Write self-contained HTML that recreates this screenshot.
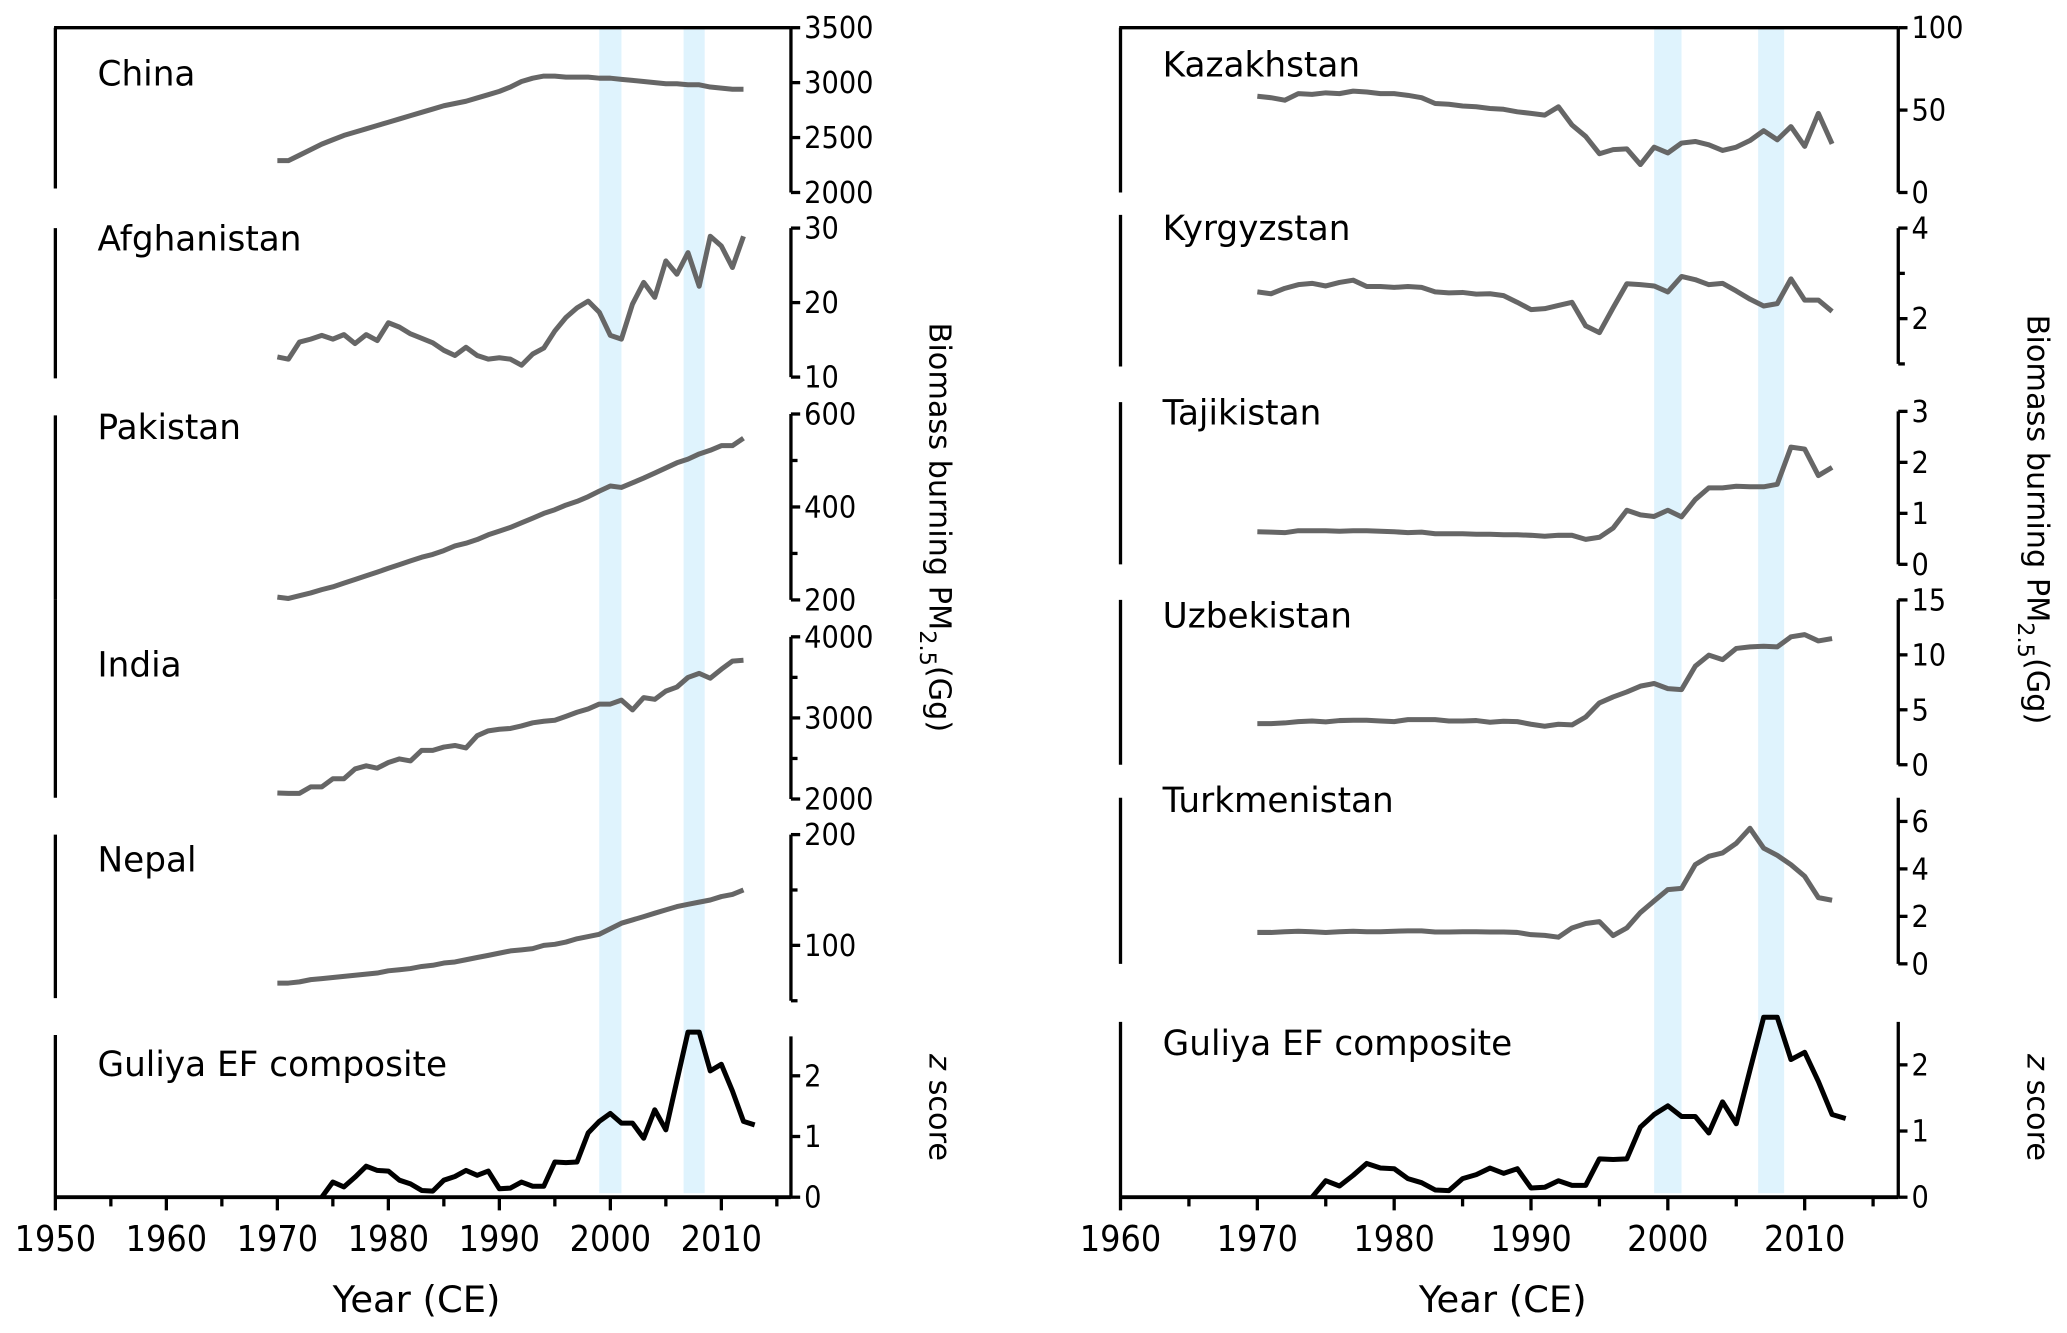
<!DOCTYPE html>
<html><head><meta charset="utf-8"><style>
html,body{margin:0;padding:0;background:#fff;}
svg{display:block;}
text{font-family:"DejaVu Sans","Liberation Sans",sans-serif;fill:#000;}
.tk{font-family:"DejaVu Sans Condensed","DejaVu Sans",sans-serif;font-size:23px;}
.xt{font-family:"DejaVu Sans Condensed","DejaVu Sans",sans-serif;font-size:27px;}
.nm{font-size:26px;}
.xl{font-size:28px;}
.al{font-size:23px;}
</style></head><body>
<svg id="chart" width="2067" height="1333" viewBox="0 0 1568 1011" preserveAspectRatio="none" xmlns="http://www.w3.org/2000/svg"></svg>
<script>
const years = [];
for (let y = 1970; y <= 2012; y++) years.push(y);
const guliyaYears = [];
for (let y = 1974; y <= 2013; y++) guliyaYears.push(y);

const china = [2290,2290,2340,2390,2440,2480,2520,2550,2580,2610,2640,2670,2700,2730,2760,2790,2810,2830,2860,2890,2920,2960,3010,3040,3060,3060,3050,3050,3050,3040,3040,3030,3020,3010,3000,2990,2990,2980,2980,2960,2950,2940,2940];
const afghanistan = [12.7,12.4,14.7,15.1,15.6,15.1,15.7,14.5,15.7,14.9,17.3,16.7,15.8,15.2,14.6,13.6,12.9,14.0,12.9,12.4,12.6,12.4,11.6,13.1,13.9,16.2,18.0,19.3,20.2,18.7,15.6,15.1,19.8,22.7,20.7,25.6,23.8,26.7,22.2,28.9,27.6,24.7,28.9];
const pakistan = [206,203,209,215,222,228,236,244,252,260,268,276,284,292,298,306,316,322,330,340,348,356,366,376,386,394,404,412,422,434,445,442,452,462,473,484,495,503,514,522,532,532,548];
const india = [2074,2070,2070,2150,2150,2250,2250,2370,2410,2380,2450,2495,2470,2600,2600,2640,2660,2630,2780,2840,2860,2870,2900,2940,2960,2970,3020,3070,3110,3170,3170,3220,3100,3250,3230,3330,3380,3500,3550,3490,3600,3700,3710];
const nepal = [66,66,67,69,70,71,72,73,74,75,77,78,79,81,82,84,85,87,89,91,93,95,96,97,100,101,103,106,108,110,115,120,123,126,129,132,135,137,139,141,144,146,150];
const guliya = [0,0.25,0.17,0.33,0.51,0.44,0.43,0.28,0.22,0.11,0.10,0.28,0.34,0.44,0.36,0.43,0.14,0.15,0.25,0.18,0.18,0.58,0.57,0.58,1.06,1.25,1.38,1.22,1.22,0.97,1.44,1.11,1.92,2.72,2.72,2.08,2.19,1.75,1.25,1.19];
const kazakhstan = [58.4,57.5,56,60,59.5,60.5,60,61.5,61,60,60,59,57.5,54,53.5,52.5,52,51,50.5,49,48,47,52,41,34,23.5,26,26.5,17,27.5,24,30,31,29,25.5,27.5,31.5,37.5,32,40,28,48,29.5];
const kyrgyzstan = [2.59,2.55,2.67,2.75,2.78,2.72,2.8,2.85,2.71,2.71,2.69,2.71,2.69,2.59,2.57,2.58,2.54,2.55,2.51,2.36,2.2,2.22,2.29,2.36,1.84,1.69,2.24,2.77,2.75,2.72,2.59,2.93,2.86,2.75,2.78,2.61,2.43,2.28,2.33,2.88,2.41,2.41,2.16];
const tajikistan = [0.64,0.63,0.62,0.66,0.66,0.66,0.65,0.66,0.66,0.65,0.64,0.62,0.63,0.6,0.6,0.6,0.59,0.59,0.58,0.58,0.57,0.55,0.57,0.57,0.49,0.53,0.71,1.06,0.97,0.94,1.06,0.93,1.27,1.5,1.5,1.53,1.52,1.52,1.57,2.3,2.26,1.74,1.9];
const uzbekistan = [3.75,3.75,3.81,3.93,3.99,3.9,4.02,4.05,4.05,3.99,3.93,4.11,4.11,4.11,3.99,3.99,4.02,3.87,3.96,3.93,3.68,3.5,3.68,3.62,4.35,5.63,6.17,6.63,7.15,7.39,6.93,6.84,8.97,9.97,9.57,10.58,10.73,10.79,10.73,11.64,11.85,11.27,11.49];
const turkmenistan = [1.32,1.32,1.35,1.37,1.35,1.32,1.35,1.37,1.35,1.35,1.37,1.39,1.39,1.34,1.34,1.35,1.35,1.34,1.34,1.32,1.23,1.2,1.12,1.51,1.7,1.78,1.19,1.51,2.16,2.65,3.13,3.18,4.18,4.53,4.67,5.08,5.71,4.87,4.57,4.18,3.69,2.79,2.68];

const bandStarts = [1999, 2006.6];
const bandEnds = [2001, 2008.5];
const leftXTicks = [1950,1960,1970,1980,1990,2000,2010];
const rightXTicks = [1960,1970,1980,1990,2000,2010];

const NS = "http://www.w3.org/2000/svg";
const svg = document.getElementById("chart");
function mk(tag, attrs, parent) {
  const e = document.createElementNS(NS, tag);
  for (const k in attrs) e.setAttribute(k, attrs[k]);
  (parent || svg).appendChild(e);
  return e;
}

const sides = [
  {key:"left", x0:42, x1:600, yr0:1950, pxPerYr:8.42, xticks:leftXTicks, labelX:74, axisLabelX:705, bioY:400, zY:840},
  {key:"right", x0:850, x1:1440, yr0:1960, pxPerYr:10.38, xticks:rightXTicks, labelX:882, axisLabelX:1538, bioY:394, zY:840}
];
const panels = {
  left: [
    {name:"China", data:china, yrs:years, vmin:2000, vmax:3500, top:21, bot:146, lt:21, lb:143, ticks:[2000,2500,3000,3500], minor:[], frame:true, ty:65},
    {name:"Afghanistan", data:afghanistan, yrs:years, vmin:10, vmax:30, top:173, bot:286, lt:173, lb:287, ticks:[10,20,30], minor:[], ty:190},
    {name:"Pakistan", data:pakistan, yrs:years, vmin:200, vmax:600, top:314, bot:455, lt:315, lb:455, ticks:[200,400,600], minor:[300,500], ty:333},
    {name:"India", data:india, yrs:years, vmin:2000, vmax:4000, top:483, bot:606, lt:455, lb:605, ticks:[2000,3000,4000], minor:[2500,3500], ty:513},
    {name:"Nepal", data:nepal, yrs:years, vmin:50, vmax:200, top:633, bot:759, lt:633, lb:757, ticks:[100,200], minor:[50,150], ty:661},
    {name:"Guliya EF composite", data:guliya, yrs:guliyaYears, vmin:0, vmax:2.65, top:786, bot:908, lt:785, lb:908, ticks:[0,1,2], minor:[], z:true, ty:816}
  ],
  right: [
    {name:"Kazakhstan", data:kazakhstan, yrs:years, vmin:0, vmax:100, top:21, bot:146, lt:21, lb:146, ticks:[0,50,100], minor:[], frame:true, ty:58},
    {name:"Kyrgyzstan", data:kyrgyzstan, yrs:years, vmin:1, vmax:4, top:173, bot:276, lt:163, lb:278, ticks:[2,4], minor:[1,3], ty:182},
    {name:"Tajikistan", data:tajikistan, yrs:years, vmin:0, vmax:3, top:312, bot:428, lt:305, lb:428, ticks:[0,1,2,3], minor:[], ty:322},
    {name:"Uzbekistan", data:uzbekistan, yrs:years, vmin:0, vmax:15, top:455, bot:580, lt:455, lb:580, ticks:[0,5,10,15], minor:[], ty:476},
    {name:"Turkmenistan", data:turkmenistan, yrs:years, vmin:0, vmax:7, top:605, bot:731, lt:605, lb:731, ticks:[0,2,4,6], minor:[], ty:616},
    {name:"Guliya EF composite", data:guliya, yrs:guliyaYears, vmin:0, vmax:2.65, top:775, bot:908, lt:775, lb:908, ticks:[0,1,2], minor:[], z:true, ty:800}
  ]
};

sides.forEach(s => {
  const X = yr => s.x0 + (yr - s.yr0) * s.pxPerYr;
  const g = mk("g", {});
  
  
  bandStarts.forEach((b, i) => {
    const r = mk("rect", {x:X(b), y:21, width:X(bandEnds[i]) - X(b), height:884, fill:"#dff3fd"}, g);
    
    
  });
  panels[s.key].forEach(p => {
    const pg = mk("g", {}, g);
    
    
    const Y = v => p.bot - (v - p.vmin) / (p.vmax - p.vmin) * (p.bot - p.top);
    const ls = mk("line", {x1:s.x0, x2:s.x0, y1:p.lt, y2:p.lb, stroke:"#000", "stroke-width":2.5}, pg);
    
    
    if (p.frame) {
      const tl = mk("line", {x1:s.x0 - 1, x2:s.x1, y1:p.lt, y2:p.lt, stroke:"#000", "stroke-width":2.5}, pg);
      
      
    }
    const ra = mk("line", {x1:s.x1, x2:s.x1, y1:p.frame ? p.lt : p.top, y2:p.z ? p.lb : p.bot, stroke:"#000", "stroke-width":2.5}, pg);
    
    
    p.ticks.forEach(t => {
      const tk = mk("line", {x1:s.x1, x2:s.x1 + 7, y1:Y(t), y2:Y(t), stroke:"#000", "stroke-width":2.5}, pg);
      
      
      const tx = mk("text", {x:s.x1 + 10, y:Y(t) + 8, class:"tk"}, pg);
      tx.textContent = String(t);
      
      
    });
    p.minor.forEach(t => {
      const tk = mk("line", {x1:s.x1, x2:s.x1 + 5, y1:Y(t), y2:Y(t), stroke:"#000", "stroke-width":2.5}, pg);
      
      
    });
    const pts = p.data.map((v, i) => X(p.yrs[i]).toFixed(1) + "," + Y(v).toFixed(1)).join(" ");
    const pl = mk("polyline", {points:pts, fill:"none", stroke:p.z ? "#000" : "#666", "stroke-width":3.8, "stroke-linejoin":"round"}, pg);
    
    
    const nm = mk("text", {x:s.labelX, y:p.ty, class:"nm"}, pg);
    nm.textContent = p.name;
    
    
  });
  const xa = mk("line", {x1:s.x0 - 1, x2:s.x1, y1:908, y2:908, stroke:"#000", "stroke-width":3}, g);
  
  
  for (let yr = s.yr0; X(yr) <= s.x1 - 5; yr += 5) {
    const major = yr % 10 === 0;
    const tk = mk("line", {x1:X(yr), x2:X(yr), y1:908, y2:major ? 918 : 915, stroke:"#000", "stroke-width":2.5}, g);
    
    
  }
  s.xticks.forEach(t => {
    const tx = mk("text", {x:X(t), y:949, class:"xt", "text-anchor":"middle"}, g);
    tx.textContent = String(t);
    
    
  });
  const xl = mk("text", {x:(s.x0 + s.x1) / 2 - 5, y:995, class:"xl", "text-anchor":"middle"}, g);
  xl.textContent = "Year (CE)";
  
  
  const yl = mk("text", {x:0, y:0, class:"al", "text-anchor":"middle", transform:`translate(${s.axisLabelX},${s.bioY}) rotate(90)`}, g);
  yl.innerHTML = 'Biomass burning PM<tspan dy="7" font-size="17">2.5</tspan><tspan dy="-7">(Gg)</tspan>';
  
  
  const zl = mk("text", {x:0, y:0, class:"al", "text-anchor":"middle", transform:`translate(${s.axisLabelX},${s.zY}) rotate(90)`}, g);
  zl.innerHTML = '<tspan font-style="italic">z</tspan> score';
  
  
});
</script>
</body></html>
